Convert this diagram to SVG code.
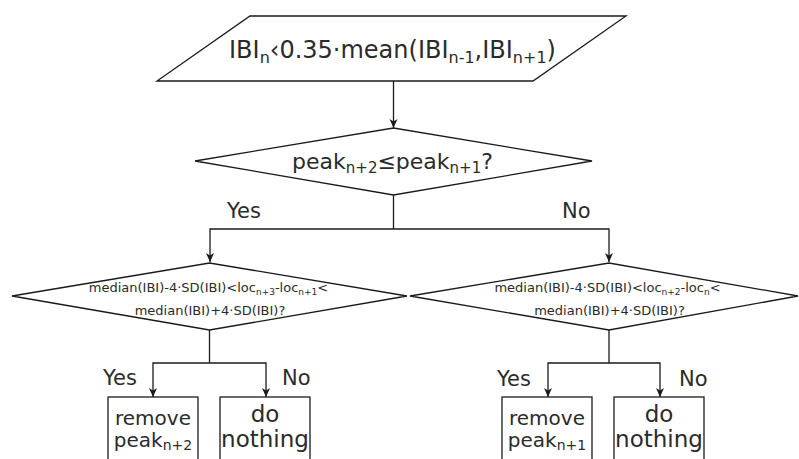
<svg xmlns="http://www.w3.org/2000/svg" width="799" height="459" viewBox="0 0 799 459">
<style>
.shape{fill:#ffffff;stroke:#1a1a1a;stroke-width:1.3}
.conn{fill:none;stroke:#1a1a1a;stroke-width:1.3}
text{font-family:"DejaVu Sans","Verdana",sans-serif;fill:#2b2b2b}
.big{font-size:24px}
.d1{font-size:22px}
.lab{font-size:21px}
.small{font-size:13px}
.box{font-size:20px}
.box2{font-size:23px}
</style>
<defs>
<marker id="arr" markerUnits="userSpaceOnUse" markerWidth="10" markerHeight="10" viewBox="0 0 10 10" refX="9" refY="5" orient="auto">
<path d="M0,1 L9,5 L0,9 L2.5,5 z" fill="#1a1a1a"/>
</marker>
</defs>
<rect width="799" height="459" fill="#ffffff"/>
<g id="connectors">
<path class="conn" d="M393.5,81 V128" marker-end="url(#arr)"/>
<path class="conn" d="M393.5,195 V229"/>
<path class="conn" d="M393.5,229 H210 V262" marker-end="url(#arr)"/>
<path class="conn" d="M393.5,229 H609 V262" marker-end="url(#arr)"/>
<path class="conn" d="M209.5,330 V363"/>
<path class="conn" d="M209.5,363 H153 V397" marker-end="url(#arr)"/>
<path class="conn" d="M209.5,363 H266 V397" marker-end="url(#arr)"/>
<path class="conn" d="M609,330 V363"/>
<path class="conn" d="M609,363 H548 V397" marker-end="url(#arr)"/>
<path class="conn" d="M609,363 H660 V397" marker-end="url(#arr)"/>
<text class="lab" x="227" y="218">Yes</text>
<text class="lab" x="562" y="218">No</text>
<text class="lab" x="103" y="385">Yes</text>
<text class="lab" x="282" y="385">No</text>
<text class="lab" x="497" y="386">Yes</text>
<text class="lab" x="679" y="386">No</text>
</g>
<g id="start">
<polygon class="shape" points="250,16 626,16 533,81 157,81"/>
<text class="big" x="392.5" y="58" text-anchor="middle">IBI<tspan font-size="16" dy="5">n</tspan><tspan dy="-5">‹0.35·mean(IBI</tspan><tspan font-size="16" dy="5">n-1</tspan><tspan dy="-5">,IBI</tspan><tspan font-size="16" dy="5">n+1</tspan><tspan dy="-5">)</tspan></text>
</g>
<g id="decision1">
<polygon class="shape" points="195,161 393.5,128 592,161 393.5,195"/>
<text class="d1" x="392.5" y="169" text-anchor="middle">peak<tspan font-size="15" dy="4">n+2</tspan><tspan dy="-4">≤peak</tspan><tspan font-size="15" dy="4">n+1</tspan><tspan dy="-4">?</tspan></text>
</g>
<g id="decision-left">
<polygon class="shape" points="12,296 209.5,263 407,296 209.5,330"/>
<text class="small" x="208.5" y="292" text-anchor="middle">median(IBI)-4·SD(IBI)&lt;loc<tspan font-size="9" dy="3">n+3</tspan><tspan dy="-3">-loc</tspan><tspan font-size="9" dy="3">n+1</tspan><tspan dy="-3">&lt;</tspan></text>
<text class="small" x="210" y="315" text-anchor="middle">median(IBI)+4·SD(IBI)?</text>
</g>
<g id="decision-right">
<polygon class="shape" points="410,296 609,263 798,296 609,330"/>
<text class="small" x="607.5" y="292" text-anchor="middle">median(IBI)-4·SD(IBI)&lt;loc<tspan font-size="9" dy="3">n+2</tspan><tspan dy="-3">-loc</tspan><tspan font-size="9" dy="3">n</tspan><tspan dy="-3">&lt;</tspan></text>
<text class="small" x="609.5" y="315" text-anchor="middle">median(IBI)+4·SD(IBI)?</text>
</g>
<g id="remove-n2">
<rect class="shape" x="108" y="397" width="90" height="80"/>
<text class="box" x="153" y="425" text-anchor="middle">remove</text>
<text class="box" x="153" y="447" text-anchor="middle">peak<tspan font-size="14" dy="3">n+2</tspan></text>
</g>
<g id="nothing-left">
<rect class="shape" x="220" y="397" width="90" height="80"/>
<text class="box2" x="265" y="422" text-anchor="middle">do</text>
<text class="box2" x="265" y="447" text-anchor="middle">nothing</text>
</g>
<g id="remove-n1">
<rect class="shape" x="502" y="397" width="90" height="80"/>
<text class="box" x="547" y="425" text-anchor="middle">remove</text>
<text class="box" x="547" y="447" text-anchor="middle">peak<tspan font-size="14" dy="3">n+1</tspan></text>
</g>
<g id="nothing-right">
<rect class="shape" x="614" y="397" width="90" height="80"/>
<text class="box2" x="659" y="422" text-anchor="middle">do</text>
<text class="box2" x="659" y="447" text-anchor="middle">nothing</text>
</g>
</svg>
